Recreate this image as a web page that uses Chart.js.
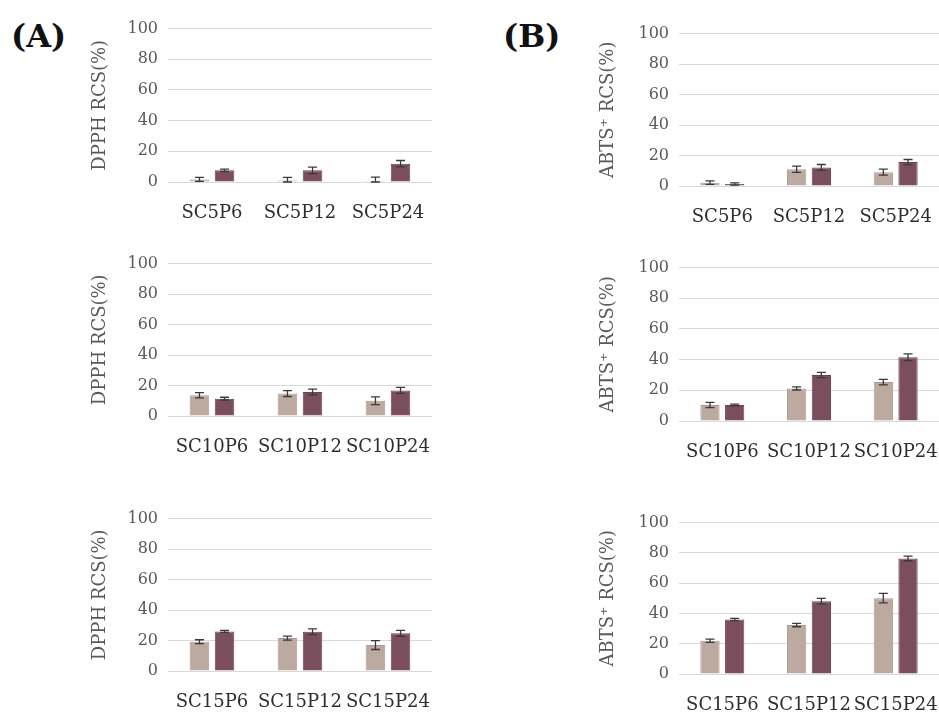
<!DOCTYPE html>
<html>
<head>
<meta charset="utf-8">
<script src="https://cdn.jsdelivr.net/npm/chart.js@4"></script>
<style>
  html, body { margin: 0; padding: 0; background: #fff; }
  body { width: 939px; height: 714px; position: relative; overflow: hidden; }
  .panel-label { position: absolute; font: bold 32px "DejaVu Serif", serif; color: #111; }
  .box { position: absolute; }
</style>
</head>
<body>
<div class="panel-label" style="left:11px; top:17px;">(A)</div>
<div class="panel-label" style="left:503px; top:17px;">(B)</div>

<div class="box" id="boxA1"><canvas id="chartA1"></canvas></div>
<div class="box" id="boxA2"><canvas id="chartA2"></canvas></div>
<div class="box" id="boxA3"><canvas id="chartA3"></canvas></div>
<div class="box" id="boxB1"><canvas id="chartB1"></canvas></div>
<div class="box" id="boxB2"><canvas id="chartB2"></canvas></div>
<div class="box" id="boxB3"><canvas id="chartB3"></canvas></div>

<script>
// categories
const catsSC5 = ['SC5P6', 'SC5P12', 'SC5P24'];
const catsSC10 = ['SC10P6', 'SC10P12', 'SC10P24'];
const catsSC15 = ['SC15P6', 'SC15P12', 'SC15P24'];

// (A) DPPH RCS(%) - light / dark series, with error values
const dpph5Light = [1.7, 0.9, 0.6];
const dpph5LightErr = [1.3, 2.1, 2.6];
const dpph5Dark = [7.6, 7.6, 11.9];
const dpph5DarkErr = [0.8, 2.1, 2.1];

const dpph10Light = [13.6, 14.7, 10.0];
const dpph10LightErr = [1.7, 1.9, 2.5];
const dpph10Dark = [11.4, 15.8, 16.8];
const dpph10DarkErr = [0.9, 1.9, 2.0];

const dpph15Light = [19.2, 21.6, 17.0];
const dpph15LightErr = [1.3, 1.3, 2.9];
const dpph15Dark = [26.0, 25.8, 24.7];
const dpph15DarkErr = [0.6, 1.9, 1.9];

// (B) ABTS+ RCS(%)
const abts5Light = [2.2, 11.0, 9.1];
const abts5LightErr = [1.1, 2.0, 2.0];
const abts5Dark = [1.3, 12.2, 15.7];
const abts5DarkErr = [0.7, 1.9, 1.7];

const abts10Light = [10.4, 21.2, 25.4];
const abts10LightErr = [1.7, 1.0, 1.8];
const abts10Dark = [10.4, 30.0, 41.6];
const abts10DarkErr = [0.6, 1.7, 2.2];

const abts15Light = [22.0, 32.3, 50.1];
const abts15LightErr = [1.1, 1.1, 3.1];
const abts15Dark = [36.0, 48.1, 76.3];
const abts15DarkErr = [0.7, 1.8, 1.5];

const yTicks = [0, 20, 40, 60, 80, 100];

const LIGHT = '#bcaaa1';
const DARK = '#7b4e5e';
const SERIF = "'DejaVu Serif', serif";
const X_HEIGHT = 46;

/**
 * Draw error bars on top of each bar using the chart's scales
 */
const errorBarPlugin = {
  id: 'errorBars',
  afterDatasetsDraw(chart) {
    const ctx = chart.ctx;
    const yScale = chart.scales.y;
    ctx.save();
    ctx.strokeStyle = '#3a3a3a';
    ctx.lineWidth = 1.3;
    chart.data.datasets.forEach((ds, di) => {
      const meta = chart.getDatasetMeta(di);
      meta.data.forEach((bar, i) => {
        const v = ds.data[i];
        const e = ds.errors[i];
        const top = yScale.getPixelForValue(v + e);
        const bottom = yScale.getPixelForValue(Math.max(0, v - e));
        const x = bar.x;
        const cap = 4.5;
        ctx.beginPath();
        ctx.moveTo(x, top);
        ctx.lineTo(x, bottom);
        ctx.moveTo(x - cap, top);
        ctx.lineTo(x + cap, top);
        ctx.moveTo(x - cap, bottom);
        ctx.lineTo(x + cap, bottom);
        ctx.stroke();
      });
    });
    ctx.restore();
  },
};

/**
 * Create one panel chart
 * area: left / right edge of canvas, top / bottom pixel of the 100 and 0 lines
 */
function createPanel(id, area, yWidth, yTitle, labels, light, lightErr, dark, darkErr) {
  const canvasTop = area.plotTop - 19;
  const wrap = document.getElementById('box' + id);
  wrap.style.left = area.left + 'px';
  wrap.style.top = canvasTop + 'px';
  wrap.style.width = (area.right - area.left) + 'px';
  wrap.style.height = (area.plotBottom - canvasTop + X_HEIGHT) + 'px';

  const ctx = document.getElementById('chart' + id).getContext('2d');
  return new Chart(ctx, {
    type: 'bar',
    data: {
      labels: labels,
      datasets: [
        {
          data: light,
          errors: lightErr,
          backgroundColor: LIGHT,
          borderColor: '#ad9a91',
          borderWidth: 1,
          categoryPercentage: 0.57,
          barPercentage: 0.78,
        },
        {
          data: dark,
          errors: darkErr,
          backgroundColor: DARK,
          borderColor: '#6c4150',
          borderWidth: 1,
          categoryPercentage: 0.57,
          barPercentage: 0.78,
        },
      ],
    },
    options: {
      responsive: true,
      maintainAspectRatio: false,
      animation: false,
      layout: { padding: { top: 0, right: area.padRight, bottom: 0, left: 0 } },
      plugins: {
        legend: { display: false },
        tooltip: { enabled: false },
      },
      scales: {
        x: {
          grid: {
            display: true,
            drawOnChartArea: false,
            drawTicks: true,
            tickLength: 21,
            color: 'rgba(0,0,0,0)',
            tickColor: 'rgba(0,0,0,0)',
          },
          border: { display: false },
          ticks: {
            color: '#2e2e2e',
            font: { size: 18, family: SERIF },
            padding: 0,
            maxRotation: 0,
            autoSkip: false,
          },
          afterFit: (scale) => { scale.height = X_HEIGHT; },
        },
        y: {
          min: 0,
          max: 100,
          afterBuildTicks: (scale) => { scale.ticks = yTicks.map(v => ({ value: v })); },
          grid: {
            color: '#d9d9d9',
            lineWidth: 1,
            drawTicks: false,
          },
          border: { display: false },
          ticks: {
            color: '#595959',
            font: { size: 16, family: SERIF },
            padding: 10,
          },
          title: {
            display: true,
            text: yTitle,
            color: '#595959',
            font: { size: 18, family: SERIF },
            padding: { top: 2, bottom: 2 },
          },
          afterFit: (scale) => { scale.width = yWidth; },
        },
      },
    },
    plugins: [errorBarPlugin],
  });
}

// (A) column: plot x 168..432
createPanel('A1', { left: 88, right: 438, padRight: 6, plotTop: 28, plotBottom: 182 }, 80,
  'DPPH RCS(%)', catsSC5, dpph5Light, dpph5LightErr, dpph5Dark, dpph5DarkErr);
createPanel('A2', { left: 88, right: 438, padRight: 6, plotTop: 263, plotBottom: 416 }, 80,
  'DPPH RCS(%)', catsSC10, dpph10Light, dpph10LightErr, dpph10Dark, dpph10DarkErr);
createPanel('A3', { left: 88, right: 438, padRight: 6, plotTop: 518, plotBottom: 671 }, 80,
  'DPPH RCS(%)', catsSC15, dpph15Light, dpph15LightErr, dpph15Dark, dpph15DarkErr);

// (B) column: plot x 679..939
createPanel('B1', { left: 596, right: 939, padRight: 0, plotTop: 33, plotBottom: 186 }, 83,
  'ABTS\u207A RCS(%)', catsSC5, abts5Light, abts5LightErr, abts5Dark, abts5DarkErr);
createPanel('B2', { left: 596, right: 939, padRight: 0, plotTop: 267, plotBottom: 421 }, 83,
  'ABTS\u207A RCS(%)', catsSC10, abts10Light, abts10LightErr, abts10Dark, abts10DarkErr);
createPanel('B3', { left: 596, right: 939, padRight: 0, plotTop: 522, plotBottom: 674 }, 83,
  'ABTS\u207A RCS(%)', catsSC15, abts15Light, abts15LightErr, abts15Dark, abts15DarkErr);
</script>
</body>
</html>
